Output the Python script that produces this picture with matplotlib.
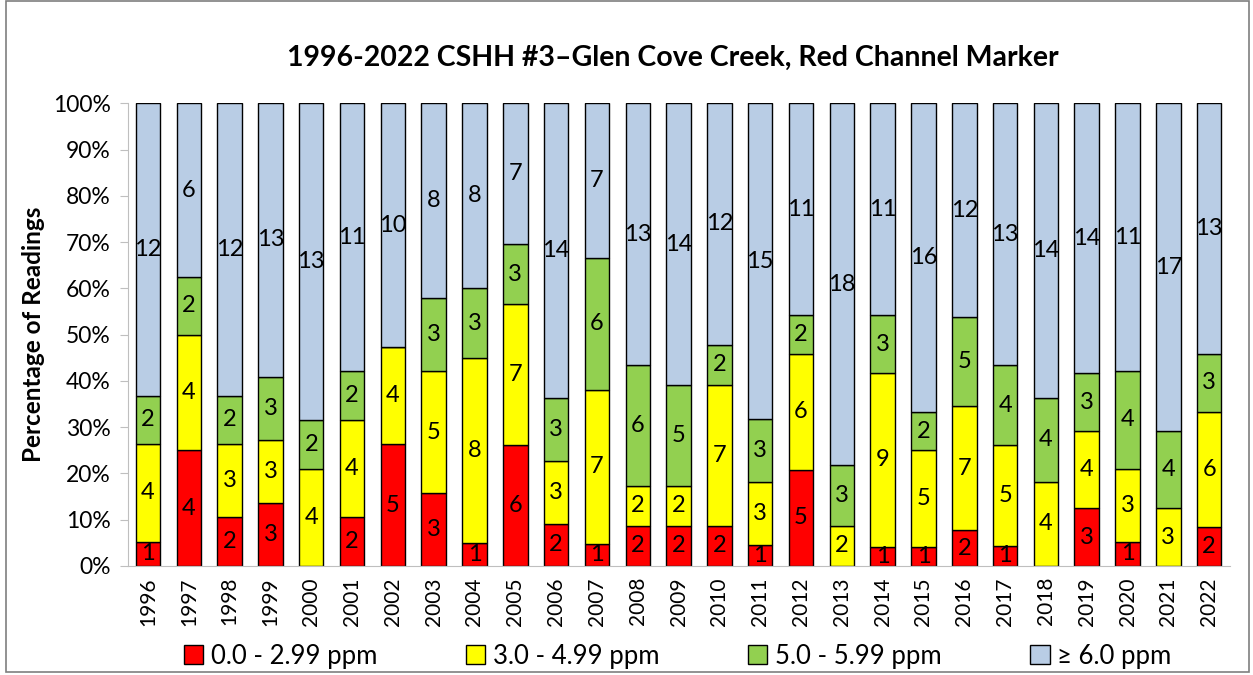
import matplotlib.pyplot as plt
import matplotlib.patches as mpatches
import numpy as np

plt.rcParams['font.family'] = ['Lato', 'DejaVu Sans']

years = [str(y) for y in range(1996, 2023)]
# counts of readings per DO range
low = [1, 4, 2, 3, 0, 2, 5, 3, 1, 6, 2, 1, 2, 2, 2, 1, 5, 0, 1, 1, 2, 1, 0, 3, 1, 0, 2]
mid = [4, 4, 3, 3, 4, 4, 4, 5, 8, 7, 3, 7, 2, 2, 7, 3, 6, 2, 9, 5, 7, 5, 4, 4, 3, 3, 6]
upper = [2, 2, 2, 3, 2, 2, 0, 3, 3, 3, 3, 6, 6, 5, 2, 3, 2, 3, 3, 2, 5, 4, 4, 3, 4, 4, 3]
high = [12, 6, 12, 13, 13, 11, 10, 8, 8, 7, 14, 7, 13, 14, 12, 15, 11, 18, 11, 16, 12, 13, 14, 14, 11, 17, 13]
labels = ['0.0 - 2.99 ppm', '3.0 - 4.99 ppm', '5.0 - 5.99 ppm', '\u2265 6.0 ppm']
colors = ['#FF0000', '#FFFF00', '#92D050', '#B9CDE5']

counts = np.array([low, mid, upper, high], dtype=float)
pct = counts / counts.sum(axis=0) * 100

fig = plt.figure(figsize=(12.53, 6.75), dpi=100)
ax = fig.add_axes([0.1018, 0.1615, 0.8795, 0.6855])
x = np.arange(len(years))
bottom = np.zeros(len(years))
for i in range(4):
    ax.bar(x, pct[i], 0.6, bottom=bottom, color=colors[i], edgecolor='black', linewidth=1, label=labels[i])
    for j in range(len(years)):
        if counts[i, j] > 0:
            ax.text(x[j], bottom[j] + pct[i, j] / 2, str(int(counts[i, j])), ha='center', va='center', fontsize=17)
    bottom += pct[i]

ax.set_xlim(-0.5, len(years) - 0.5)
ax.set_ylim(0, 100)
ax.set_yticks(np.arange(0, 101, 10))
ax.set_yticklabels([f'{v}%' for v in range(0, 101, 10)], fontsize=16.5)
ax.set_xticks(x)
ax.set_xticklabels(years, rotation=90, fontsize=15)
ax.tick_params(axis='x', length=0, pad=8)
ax.tick_params(axis='y', length=6, color='#BFBFBF', pad=6)
for s in ['top', 'right']:
    ax.spines[s].set_visible(False)
ax.spines['left'].set_color('#BFBFBF')
ax.spines['bottom'].set_color('#BFBFBF')
ax.set_ylabel('Percentage of Readings', fontsize=17.5, fontweight='bold', labelpad=6)
fig.text(0.537, 0.915, '1996-2022 CSHH #3\u2013Glen Cove Creek, Red Channel Marker',
         ha='center', va='center', fontsize=20.5, fontweight='bold')

handles = [mpatches.Patch(facecolor=c, edgecolor='black', label=l) for c, l in zip(colors, labels)]
fig.legend(handles=handles, loc='center', bbox_to_anchor=(0.541, 0.028), ncol=4, frameon=False,
           fontsize=18.5, handlelength=0.75, handleheight=0.75, handletextpad=0.3, columnspacing=3.45)

fig.patches.append(mpatches.Rectangle((0.005, 0.004), 0.992, 0.994, transform=fig.transFigure,
                                      fill=False, edgecolor='#7F7F7F', linewidth=1.2))
fig.savefig('out.png', dpi=100)
